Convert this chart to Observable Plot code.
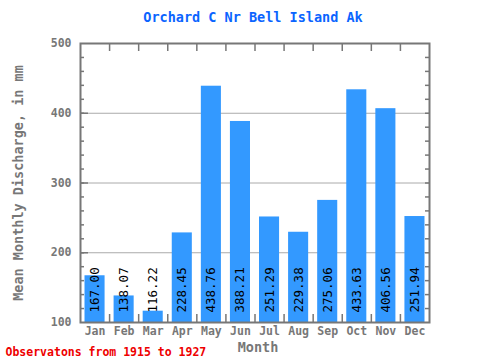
<!DOCTYPE html>
<html><head><meta charset="utf-8">
<script src="https://cdn.jsdelivr.net/npm/d3@7"></script>
<script src="https://cdn.jsdelivr.net/npm/@observablehq/plot@0.6"></script>
<style>body{margin:0;background:#fff}</style>
</head><body><div id="chart"></div>
<script>
const months = ["Jan","Feb","Mar","Apr","May","Jun","Jul","Aug","Sep","Oct","Nov","Dec"];
const values = [167.00,138.07,116.22,228.45,438.76,388.21,251.29,229.38,275.06,433.63,406.56,251.94];
const labels = ["167.00","138.07","116.22","228.45","438.76","388.21","251.29","229.38","275.06","433.63","406.56","251.94"];
const yTicks = [100,200,300,400,500];
const yGrid = [200,300,400];
const yMinor = d3.range(120,500,20);
const title = "Orchard C Nr Bell Island Ak";
const yLabel = "Mean Monthly Discharge, in mm";
const xLabel = "Month";
const caption = "Observatons from 1915 to 1927";

const font = "DejaVu Sans Mono";
const grey = "#777";
const W = 480, H = 360, mL = 80, mR = 51, mT = 43, mB = 38;
const pxX = 12 / (W - mL - mR);   // x units per px
const pxY = 400 / (H - mT - mB);  // y units per px
const data = values.map((v,i)=>({i, v, m: months[i], l: labels[i]}));

const chart = Plot.plot({
  width: W, height: H,
  marginLeft: mL, marginRight: mR, marginTop: mT, marginBottom: mB,
  x: {domain: [0,12], axis: null},
  y: {domain: [100,500], axis: null},
  marks: [
    Plot.ruleY(yGrid, {stroke: "#aaa", strokeWidth: 1}),
    Plot.rectY(data, {x1: d=>d.i+0.155, x2: d=>d.i+0.845, y1: 100, y2: d=>d.v, fill: "#3399ff"}),
    Plot.text(data, {x: d=>d.i+0.5, y: 100, text: d=>d.l, rotate: -90, textAnchor: "start", lineAnchor: "middle", dy: -10,
      fontFamily: font, fontSize: 12.5, fill: "#000"}),
    Plot.ruleY(yMinor, {x1: 0, x2: 4*pxX, stroke: grey, strokeWidth: 1.5}),
    Plot.ruleY(yMinor, {x1: 12-4*pxX, x2: 12, stroke: grey, strokeWidth: 1.5}),
    Plot.ruleY(yGrid, {x1: 0, x2: 8*pxX, stroke: grey, strokeWidth: 1.5}),
    Plot.ruleX(d3.range(1,12), {y1: 100, y2: 100+8*pxY, stroke: grey, strokeWidth: 1.5}),
    Plot.ruleX(d3.range(1,12), {y1: 500-8*pxY, y2: 500, stroke: grey, strokeWidth: 1.5}),
    Plot.frame({stroke: grey, strokeWidth: 2}),
    Plot.text(yTicks, {y: d=>d, text: d=>String(d), frameAnchor: "left", dx: -9, textAnchor: "end", lineAnchor: "middle",
      fontFamily: font, fontSize: 11.5, fontWeight: "bold", fill: grey}),
    Plot.text(data, {x: d=>d.i+0.5, text: d=>d.m, frameAnchor: "bottom", dy: 9, lineAnchor: "middle",
      fontFamily: font, fontSize: 11.5, fontWeight: "bold", fill: grey}),
    Plot.text([title], {frameAnchor: "top", dx: -2, dy: -26, lineAnchor: "middle",
      fontFamily: font, fontSize: 13.5, fontWeight: "bold", fill: "#0a64ff"}),
    Plot.text([xLabel], {frameAnchor: "bottom", dx: 3, dy: 25, lineAnchor: "middle",
      fontFamily: font, fontSize: 13.5, fontWeight: "bold", fill: grey}),
    Plot.text([yLabel], {frameAnchor: "left", dx: -62, rotate: -90, textAnchor: "middle", lineAnchor: "middle",
      fontFamily: font, fontSize: 13.5, fontWeight: "bold", fill: grey}),
    Plot.text([caption], {frameAnchor: "bottom-left", dx: -75, dy: 30, textAnchor: "start", lineAnchor: "middle",
      fontFamily: font, fontSize: 11.5, fontWeight: "bold", fill: "#ee0000"})
  ]
});
document.getElementById("chart").appendChild(chart);
</script>
</body></html>
